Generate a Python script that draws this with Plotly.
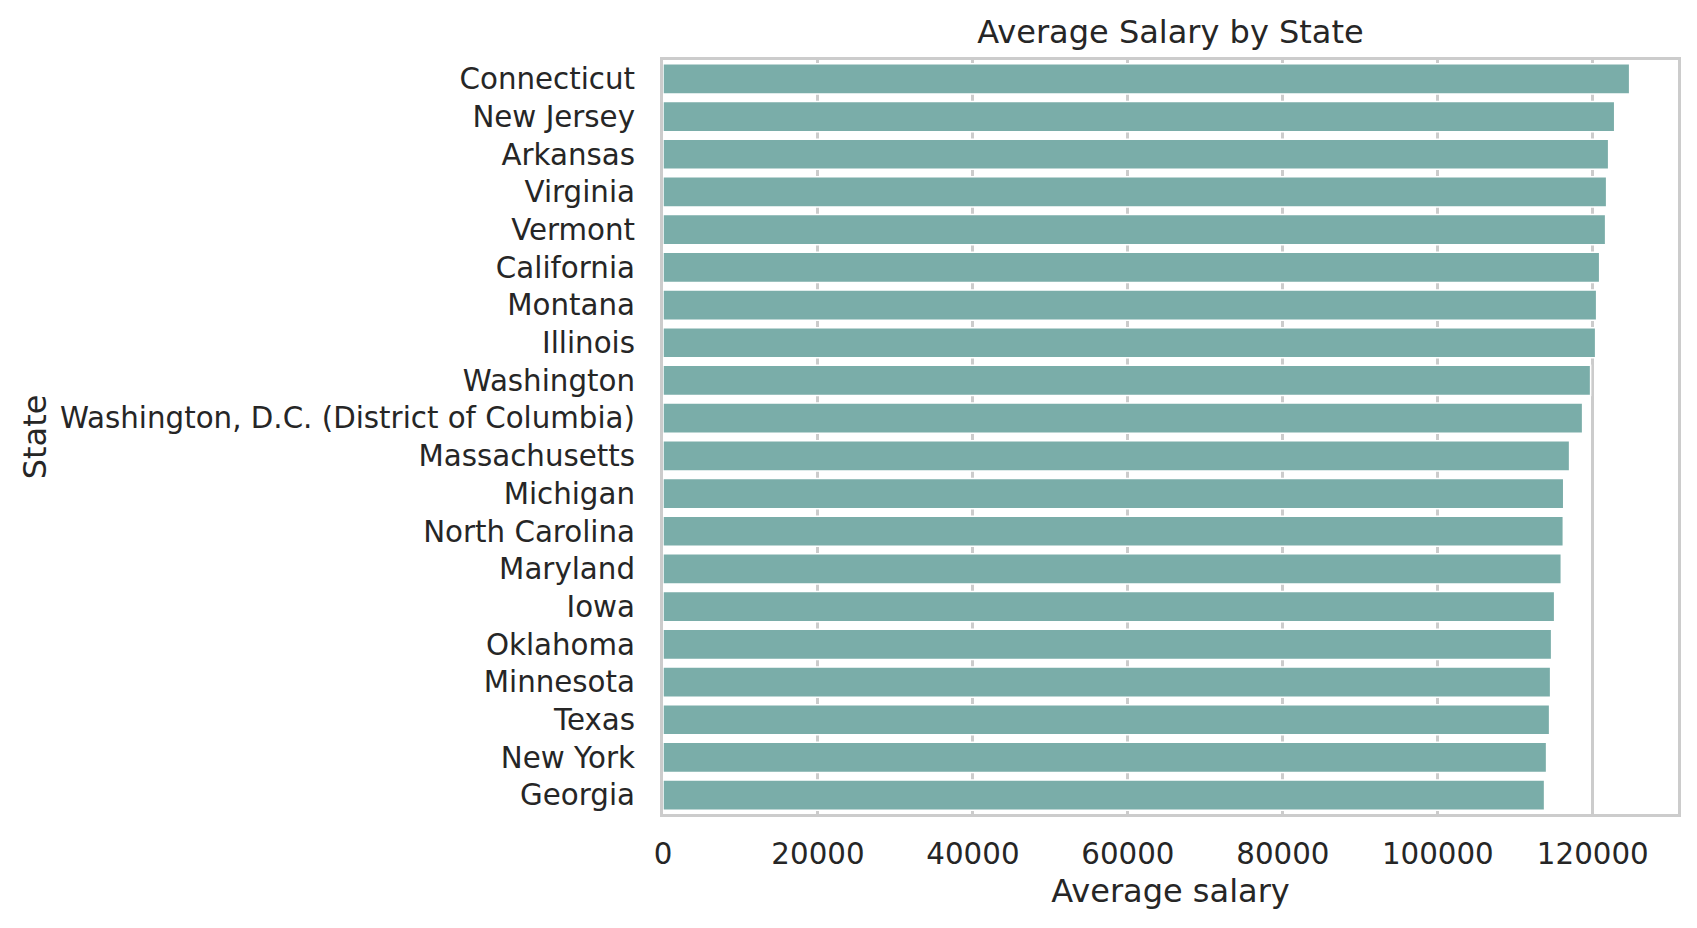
import plotly.graph_objects as go

states = [
    "Connecticut", "New Jersey", "Arkansas", "Virginia", "Vermont",
    "California", "Montana", "Illinois", "Washington",
    "Washington, D.C. (District of Columbia)", "Massachusetts", "Michigan",
    "North Carolina", "Maryland", "Iowa", "Oklahoma", "Minnesota", "Texas",
    "New York", "Georgia",
]
avg_salary = [
    124760, 122830, 122050, 121790, 121660,
    120890, 120500, 120370, 119720,
    118690, 117010, 116250,
    116200, 115940, 115080, 114690, 114560, 114430,
    114040, 113780,
]
x_ticks = [0, 20000, 40000, 60000, 80000, 100000, 120000]

FONT = "DejaVu Sans"
TXT = "#262626"
GRID = "#cccccc"

W, H = 1681, 912  # page body has an 8px margin

fig = go.Figure(
    go.Bar(
        x=avg_salary,
        y=states,
        orientation="h",
        marker=dict(color="#7aada9", line=dict(color="white", width=1.5)),
        hoverinfo="x+y",
    )
)

fig.update_layout(
    width=W,
    height=H,
    paper_bgcolor="white",
    plot_bgcolor="white",
    margin=dict(l=654.5, r=7.5, t=51.5, b=106, pad=0),
    bargap=0.2,
    showlegend=False,
    font=dict(family=FONT, color=TXT, size=29.3),
    title=dict(
        text="Average Salary by State",
        x=0.5, xref="paper", xanchor="center",
        y=1 - 23.5 / H, yref="container", yanchor="middle",
        font=dict(family=FONT, size=32, color=TXT),
    ),
)

fig.update_xaxes(
    range=[0, 131000],
    tickvals=x_ticks,
    ticktext=[str(v) for v in x_ticks],
    showgrid=True, gridcolor=GRID, gridwidth=2.6,
    zeroline=False,
    showline=True, linecolor=GRID, linewidth=3.3, mirror=True,
    ticks="", ticklabelstandoff=12,
    tickfont=dict(family=FONT, size=29.3, color=TXT),
    title=dict(text="Average salary", font=dict(family=FONT, size=32, color=TXT), standoff=9.5),
)

fig.update_yaxes(
    categoryorder="array", categoryarray=states,
    autorange="reversed",
    showgrid=False, zeroline=False,
    showline=True, linecolor=GRID, linewidth=3.3, mirror=True,
    ticks="", ticklabelstandoff=19,
    tickfont=dict(family=FONT, size=29.3, color=TXT),
    title=dict(text="State", font=dict(family=FONT, size=32, color=TXT), standoff=4.5),
)

fig.write_html("out.html")
